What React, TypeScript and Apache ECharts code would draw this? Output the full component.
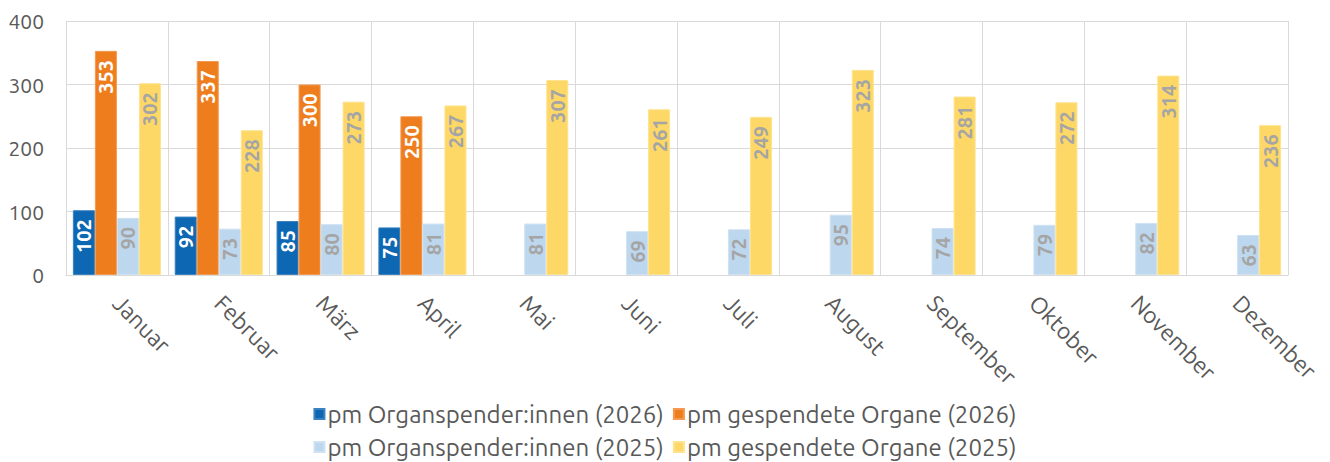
import React, { useEffect, useRef } from "react";
import * as echarts from "echarts";

const months = ["Januar", "Februar", "März", "April", "Mai", "Juni", "Juli", "August", "September", "Oktober", "November", "Dezember"];
const donors2026 = [102, 92, 85, 75, null, null, null, null, null, null, null, null];
const organs2026 = [353, 337, 300, 250, null, null, null, null, null, null, null, null];
const donors2025 = [90, 73, 80, 81, 81, 69, 72, 95, 74, 79, 82, 63];
const organs2025 = [302, 228, 273, 267, 307, 261, 249, 323, 281, 272, 314, 236];
const seriesNames = [
  "pm Organspender:innen (2026)",
  "pm gespendete Organe (2026)",
  "pm Organspender:innen (2025)",
  "pm gespendete Organe (2025)",
];
const colors = ["#0e67b2", "#ee7d1e", "#bdd7ee", "#fdd866"];
const borderColors = ["#3a82c0", "#f39a50", "#cfe1f2", "#fee38e"];
const labelColors = ["#ffffff", "#ffffff", "#a5a5a5", "#a5a5a5"];

const FONT = "Ubuntu, 'Open Sans', 'Noto Sans', sans-serif";

export default function App() {
  const ref = useRef<HTMLDivElement>(null);
  useEffect(() => {
    document.body.style.margin = "0";
    const chart = echarts.init(ref.current!, null, { renderer: "svg" });
    const data = [donors2026, organs2026, donors2025, organs2025];
    const legendText = { fontSize: 24, color: "#595959", fontFamily: FONT, padding: [0, 0, 0, -2] };
    chart.setOption({
      animation: false,
      textStyle: { fontFamily: FONT },
      grid: { left: 66, right: 42, top: 21, bottom: 187 },
      legend: [
        {
          data: [seriesNames[0], seriesNames[1]],
          top: 397,
          left: "center",
          itemWidth: 10,
          itemHeight: 10,
          itemGap: 9,
          icon: "rect",
          textStyle: legendText,
        },
        {
          data: [seriesNames[2], seriesNames[3]],
          top: 430,
          left: "center",
          itemWidth: 10,
          itemHeight: 10,
          itemGap: 9,
          icon: "rect",
          textStyle: legendText,
        },
      ],
      xAxis: {
        type: "category",
        data: months,
        axisLine: { lineStyle: { color: "#d9d9d9" } },
        axisTick: { show: false },
        splitLine: { show: true, lineStyle: { color: "#d9d9d9" } },
        axisLabel: {
          rotate: -45,
          interval: 0,
          margin: 24,
          fontSize: 23,
          color: "#595959",
          fontFamily: FONT,
        },
      },
      yAxis: {
        type: "value",
        min: 0,
        max: 400,
        interval: 100,
        axisLine: { show: false },
        axisTick: { show: false },
        splitLine: { lineStyle: { color: "#d9d9d9" } },
        axisLabel: { fontSize: 21, color: "#595959", margin: 22, fontFamily: FONT },
      },
      series: data.map((d, i) => ({
        name: seriesNames[i],
        type: "bar",
        data: d,
        barGap: "0%",
        barCategoryGap: "13.5%",
        itemStyle: { color: colors[i], borderColor: borderColors[i], borderWidth: 1 },
        label: {
          show: true,
          position: "insideTop",
          rotate: 90,
          align: "right",
          verticalAlign: "middle",
          distance: 9,
          fontSize: 20,
          fontWeight: "bold",
          color: labelColors[i],
          fontFamily: FONT,
        },
      })),
    });
    return () => chart.dispose();
  }, []);
  return <div ref={ref} style={{ width: 1330, height: 462 }} />;
}
